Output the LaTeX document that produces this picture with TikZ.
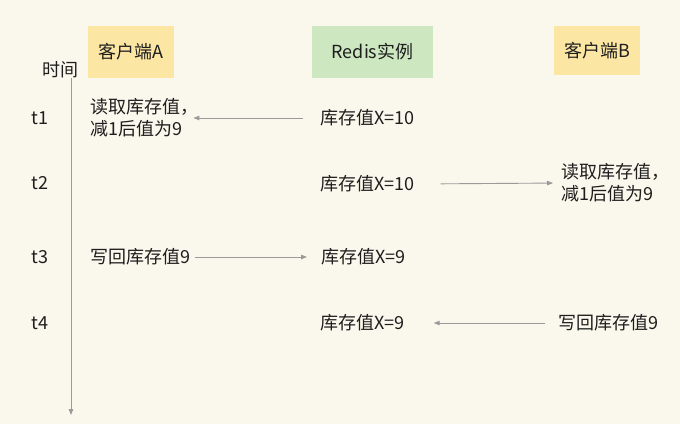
\documentclass[tikz,border=0pt]{standalone}
\usepackage{fontspec}
\setmainfont{Noto Sans CJK SC}
\usetikzlibrary{arrows.meta}
\definecolor{bgc}{HTML}{FAF7EC}
\definecolor{yel}{HTML}{FBE6A3}
\definecolor{grn}{HTML}{CDE7C1}
\definecolor{txt}{HTML}{1E1E1E}
\definecolor{ln}{HTML}{9A9A9A}
\tikzset{
  every node/.style={text=txt, font=\fontsize{18}{22}\selectfont, inner sep=0pt},
  hdr/.style={minimum height=52pt},
  lbl/.style={anchor=west, align=left},
  conn/.style={draw=ln, line width=0.9pt, -{Triangle[length=6pt,width=4.5pt]}},
}
\begin{document}
\begin{tikzpicture}[x=1pt,y=-1pt]
\fill[bgc] (0,0) rectangle (680,424);
\useasboundingbox (0,0) rectangle (680,424);
% headers
\node[hdr, fill=yel, minimum width=86pt] (ca) at (131,52) {客户端A};
\node[hdr, fill=grn, minimum width=121pt] (rd) at (372.5,52) {Redis实例};
\node[hdr, fill=yel, minimum width=86pt, minimum height=49pt] (cb) at (597,50.5) {客户端B};
% time axis
\node (time) at (60,70) {时间};
\coordinate (tstart) at (71,78);
\coordinate (tend) at (71,415);
\draw[conn] (tstart) -- (tend);
\node (t1) at (40,118) {t1};
\node (t2) at (40,183) {t2};
\node (t3) at (40,257) {t3};
\node (t4) at (40,323) {t4};
% t1
\node[lbl] (a1) at (90,118) {读取库存值，\\减1后值为9};
\node[lbl] (r1) at (320,118) {库存值X=10};
\draw[conn, shorten <=17pt, shorten >=-5pt] (r1.west) -- (a1.east);
% t2
\node[lbl] (r2) at (320,184) {库存值X=10};
\node[lbl] (b2) at (561,183) {读取库存值，\\减1后值为9};
\draw[conn, shorten <=26pt, shorten >=8pt] (r2.east) -- (b2.west);
% t3
\node[lbl] (a3) at (90,257) {写回库存值9};
\node[lbl] (r3) at (321,257) {库存值X=9};
\draw[conn, shorten <=5pt, shorten >=14pt] (a3.east) -- (r3.west);
% t4
\node[lbl] (r4) at (320,323) {库存值X=9};
\node[lbl] (b4) at (558,323) {写回库存值9};
\draw[conn, shorten <=13pt, shorten >=29pt] (b4.west) -- (r4.east);
\end{tikzpicture}
\end{document}
